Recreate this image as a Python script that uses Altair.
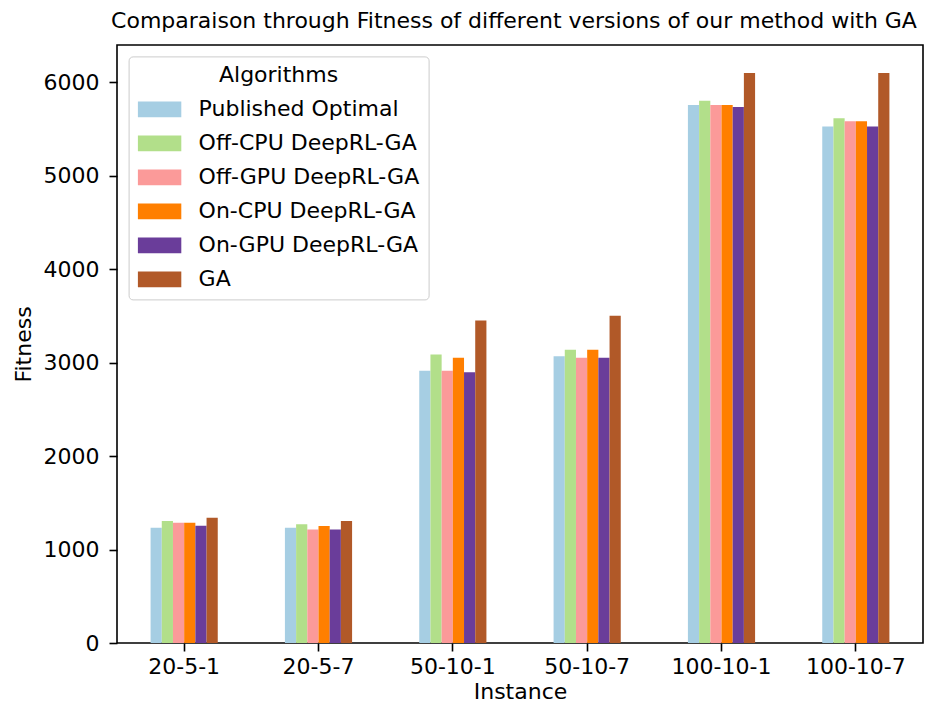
import altair as alt
import pandas as pd

instances = ["20-5-1", "20-5-7", "50-10-1", "50-10-7", "100-10-1", "100-10-7"]
algorithms = ["Published Optimal", "Off-CPU DeepRL-GA", "Off-GPU DeepRL-GA",
              "On-CPU DeepRL-GA", "On-GPU DeepRL-GA", "GA"]
colors = ["#a6cee3", "#b2df8a", "#fb9a99", "#ff7f00", "#6a3d9a", "#b15928"]

published_optimal = [1234, 1234, 2913, 3070, 5758, 5529]
off_cpu = [1305, 1270, 3088, 3138, 5804, 5615]
off_gpu = [1288, 1216, 2913, 3052, 5758, 5583]
on_cpu = [1288, 1251, 3052, 3138, 5758, 5583]
on_gpu = [1256, 1216, 2898, 3052, 5737, 5529]
ga = [1341, 1305, 3451, 3502, 6101, 6101]

y_ticks = [0, 1000, 2000, 3000, 4000, 5000, 6000]

series = [published_optimal, off_cpu, off_gpu, on_cpu, on_gpu, ga]
rows = []
for alg, vals in zip(algorithms, series):
    for inst, v in zip(instances, vals):
        rows.append({"Instance": inst, "Algorithm": alg, "Fitness": v})
df = pd.DataFrame(rows)

FONT = "DejaVu Sans"

chart = alt.Chart(df).mark_bar(strokeWidth=0).encode(
    x=alt.X("Instance:N", sort=instances,
            scale=alt.Scale(paddingInner=0.5, paddingOuter=0.25),
            axis=alt.Axis(title="Instance", labelAngle=0, labelPadding=5,
                          titleX=403, titleY=55,
                          titleBaseline="alphabetic", titleAnchor="middle")),
    xOffset=alt.XOffset("Algorithm:N", sort=algorithms,
                        scale=alt.Scale(paddingInner=0, paddingOuter=0)),
    y=alt.Y("Fitness:Q", scale=alt.Scale(domain=[0, 6400], nice=False),
            axis=alt.Axis(title="Fitness", values=y_ticks, format="d", labelPadding=10,
                          titleX=-87, titleY=299,
                          titleBaseline="alphabetic", titleAngle=-90, titleAlign="center")),
    color=alt.Color("Algorithm:N", sort=algorithms,
                    scale=alt.Scale(domain=algorithms, range=colors),
                    legend=alt.Legend(
                        title="Algorithms", orient="none", legendX=11.6, legendY=11.4,
                        symbolType="M-2,-0.72L2,-0.72L2,0.72L-2,0.72Z",
                        symbolSize=471, symbolStrokeWidth=0, symbolOpacity=1,
                        symbolOffset=11, labelOffset=28,
                        padding=9, rowPadding=12, titlePadding=11,
                        titleAnchor="middle", labelLimit=0,
                        strokeColor="#cccccc", fillColor="rgba(255,255,255,0.8)",
                        cornerRadius=4)),
).properties(
    width=806,
    height=598,
    autosize=alt.AutoSizeParams(type="none"),
    padding={"left": 109, "top": 37, "right": 5, "bottom": 59},
    title=alt.TitleParams(
        "Comparaison through Fitness of different versions of our method with GA",
        fontSize=22, font=FONT, fontWeight="normal", color="#000000",
        anchor="middle", frame="group", baseline="bottom", offset=12, dy=22, dx=-6),
).configure_view(
    stroke="#000000", strokeWidth=1.6
).configure_axis(
    domain=False, grid=False,
    ticks=True, tickColor="#000000", tickWidth=1.6, tickSize=8,
    labelFont=FONT, labelFontSize=22, labelColor="#000000",
    titleFont=FONT, titleFontSize=22, titleColor="#000000", titleFontWeight="normal",
).configure_legend(
    labelFont=FONT, labelFontSize=22, labelColor="#000000",
    titleFont=FONT, titleFontSize=22, titleColor="#000000", titleFontWeight="normal",
)

chart.save("out.html", embed_options={"renderer": "svg", "actions": False})
